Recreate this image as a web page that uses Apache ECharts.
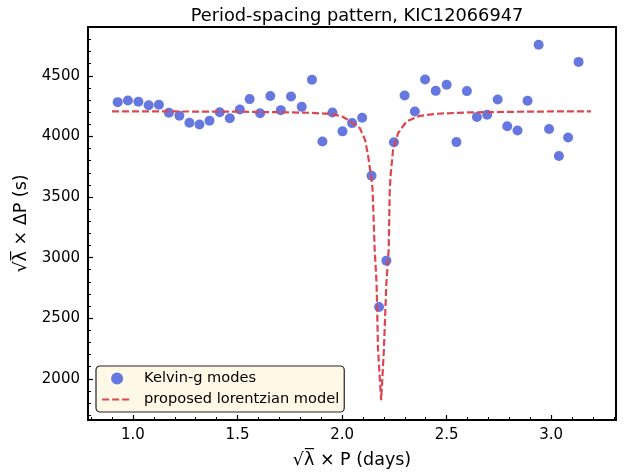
<!DOCTYPE html>
<html>
<head>
<meta charset="utf-8">
<script src="https://cdn.jsdelivr.net/npm/echarts@6/dist/echarts.min.js"></script>
<style>
  html, body { margin: 0; padding: 0; background: #fff; }
  #chart { width: 628px; height: 474px; }
</style>
</head>
<body>
<div id="chart"></div>
<script>
// Kelvin-g modes
var modeX = [0.927, 0.976, 1.026, 1.075, 1.124, 1.172, 1.222, 1.270, 1.318, 1.366,
  1.415, 1.463, 1.511, 1.558, 1.608, 1.657, 1.707, 1.756, 1.807, 1.856,
  1.906, 1.954, 2.002, 2.048, 2.096, 2.141, 2.177, 2.212, 2.248, 2.299,
  2.348, 2.397, 2.448, 2.500, 2.547, 2.597, 2.645, 2.694, 2.744, 2.790,
  2.839, 2.887, 2.940, 2.990, 3.037, 3.081, 3.131]
var modeY = [4283, 4296, 4286, 4258, 4261, 4195, 4170, 4113, 4099, 4129,
  4199, 4150, 4222, 4308, 4192, 4333, 4217, 4329, 4244, 4467,
  3958, 4197, 4042, 4110, 4154, 3676, 2593, 2975, 3952, 4338,
  4206, 4470, 4376, 4426, 3953, 4374, 4160, 4179, 4305, 4084,
  4049, 4294, 4756, 4061, 3838, 3991, 4615]

// proposed lorentzian model
var modelX = [0.90, 1.20, 1.50, 1.70, 1.85, 1.95, 2.00, 2.04, 2.085, 2.11,
  2.125, 2.141, 2.146, 2.156, 2.165, 2.172, 2.187, 2.200, 2.212, 2.223,
  2.228, 2.233, 2.244, 2.268, 2.308, 2.372, 2.452, 2.60, 2.80, 3.00, 3.19]
var modelY = [4207, 4206, 4204, 4200, 4195, 4185, 4165, 4125, 4069, 3972,
  3835, 3643, 3560, 3066, 2791, 2242, 1823, 2242, 2793, 3066,
  3560, 3698, 3890, 4028, 4123, 4170, 4187, 4198, 4203, 4206, 4207]

var xTicks = [1.0, 1.5, 2.0, 2.5, 3.0]
var xMinor = [0.8, 0.9, 1.1, 1.2, 1.3, 1.4, 1.6, 1.7, 1.8, 1.9, 2.1, 2.2, 2.3, 2.4, 2.6, 2.7, 2.8, 2.9, 3.1, 3.2, 3.3]
var yTicks = [2000, 2500, 3000, 3500, 4000, 4500]
var yMinor = []
for (var v = 1700; v <= 4900; v += 100) { if (v % 500 !== 0) yMinor.push(v) }

function pairs(xs, ys) {
  var out = []
  xs.forEach(function (x, i) { out.push([x, ys[i]]) })
  return out
}

var font = 'DejaVu Sans'
var blue = '#6678e0'
var red = '#dd4650'

var chart = echarts.init(document.getElementById('chart'))
var option = {
  animation: false,
  backgroundColor: '#fff',
  textStyle: { fontFamily: font },
  title: {
    text: 'Period-spacing pattern, KIC12066947',
    left: 352, top: 2, textAlign: 'center',
    textStyle: { fontFamily: font, fontSize: 17.8, fontWeight: 'normal', color: '#000' }
  },
  grid: {
    left: 88, right: 12, top: 27, bottom: 53,
    show: true, borderColor: '#000', borderWidth: 2, backgroundColor: 'transparent'
  },
  legend: {
    orient: 'vertical', left: 96, top: 366,
    backgroundColor: '#fff8e7', borderColor: '#222', borderWidth: 1.2, borderRadius: 4,
    padding: [5, 5, 5, 5], itemGap: 6, itemWidth: 30, itemHeight: 12,
    textStyle: { fontFamily: font, fontSize: 14.6, color: '#000', padding: [0, 0, 0, 7] },
    data: [
      { name: 'Kelvin-g modes', icon: 'circle' },
      { name: 'proposed lorentzian model', itemStyle: { opacity: 0 },
        lineStyle: { color: red, width: 2.2, type: [7, 3] } }
    ]
  },
  xAxis: [{
    type: 'value', min: 0.785, max: 3.31, position: 'bottom',
    name: '\u221a\u03bb\u0305 \u00d7 P (days)', nameLocation: 'middle', nameGap: 31,
    nameTextStyle: { fontFamily: font, fontSize: 17.5, color: '#000' },
    axisLine: { show: true, lineStyle: { color: '#000', width: 2 } },
    axisTick: { show: true, inside: true, length: 5, customValues: xTicks, lineStyle: { color: '#000', width: 1.2 } },
    axisLabel: { show: true, customValues: xTicks, fontSize: 15, color: '#000', margin: 8,
      formatter: function (v) { return v.toFixed(1) } },
    splitLine: { show: false }
  }, {
    type: 'value', min: 0.785, max: 3.31, position: 'bottom',
    axisLine: { show: false },
    axisTick: { show: true, inside: true, length: 3, customValues: xMinor, lineStyle: { color: '#000', width: 1 } },
    axisLabel: { show: false },
    splitLine: { show: false }
  }],
  yAxis: [{
    type: 'value', min: 1660, max: 4903, position: 'left',
    name: '\u221a\u03bb\u0305 \u00d7 \u0394P (s)', nameLocation: 'middle', nameGap: 55, nameRotate: 90,
    nameTextStyle: { fontFamily: font, fontSize: 17.5, color: '#000' },
    axisLine: { show: true, lineStyle: { color: '#000', width: 2 } },
    axisTick: { show: true, inside: true, length: 5, customValues: yTicks, lineStyle: { color: '#000', width: 1.2 } },
    axisLabel: { show: true, customValues: yTicks, fontSize: 15, color: '#000', margin: 8,
      formatter: function (v) { return String(v) } },
    splitLine: { show: false }
  }, {
    type: 'value', min: 1660, max: 4903, position: 'left',
    axisLine: { show: false },
    axisTick: { show: true, inside: true, length: 3, customValues: yMinor, lineStyle: { color: '#000', width: 1 } },
    axisLabel: { show: false },
    splitLine: { show: false }
  }],
  series: [{
    name: 'Kelvin-g modes',
    type: 'scatter',
    xAxisIndex: 0, yAxisIndex: 0,
    symbolSize: 10,
    itemStyle: { color: blue, opacity: 1 },
    data: pairs(modeX, modeY),
    z: 2
  }, {
    name: 'proposed lorentzian model',
    type: 'line',
    xAxisIndex: 0, yAxisIndex: 0,
    showSymbol: false, symbol: 'none',
    lineStyle: { color: red, width: 2.2, type: [7, 3] },
    itemStyle: { color: red },
    data: pairs(modelX, modelY),
    z: 3
  }]
}
chart.setOption(option)
</script>
</body>
</html>
